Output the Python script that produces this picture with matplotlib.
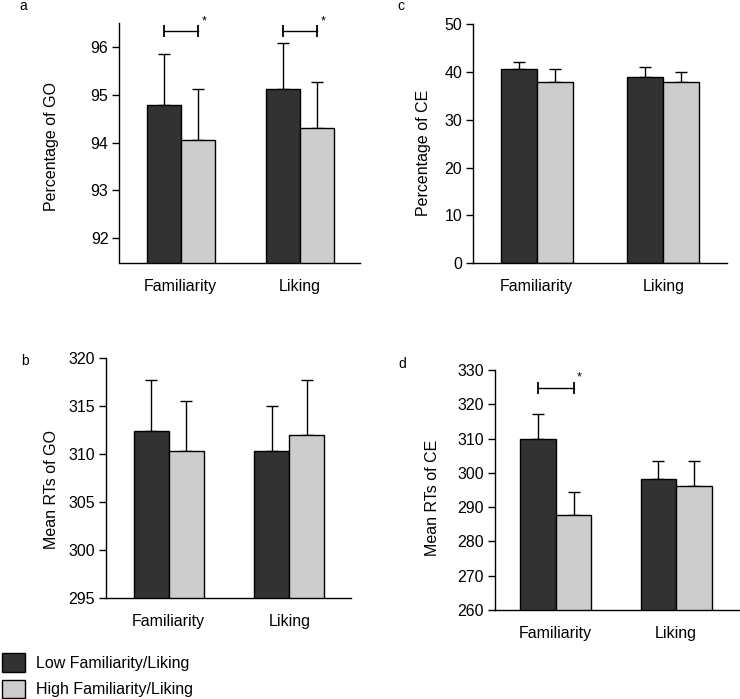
import matplotlib
matplotlib.use("Agg")
import matplotlib.pyplot as plt
from matplotlib.patches import Patch
import numpy as np

plt.rcParams['font.family'] = ['Liberation Sans', 'DejaVu Sans']

categories = ["Familiarity", "Liking"]
series_names = ["Low Familiarity/Liking", "High Familiarity/Liking"]

# Panel a: Percentage of GO
go_pct_low = [94.78, 95.11]
go_pct_high = [94.06, 94.30]
go_pct_low_err = [1.07, 0.97]
go_pct_high_err = [1.06, 0.96]
go_pct_ticks = [92, 93, 94, 95, 96]

# Panel b: Mean RTs of GO
go_rt_low = [312.4, 310.3]
go_rt_high = [310.3, 312.0]
go_rt_low_err = [5.3, 4.7]
go_rt_high_err = [5.3, 5.7]
go_rt_ticks = [295, 300, 305, 310, 315, 320]

# Panel c: Percentage of CE
ce_pct_low = [40.7, 38.9]
ce_pct_high = [37.95, 37.95]
ce_pct_low_err = [1.35, 2.2]
ce_pct_high_err = [2.55, 2.0]
ce_pct_ticks = [0, 10, 20, 30, 40, 50]

# Panel d: Mean RTs of CE
ce_rt_low = [309.9, 298.1]
ce_rt_high = [287.7, 296.1]
ce_rt_low_err = [7.3, 5.3]
ce_rt_high_err = [6.6, 7.3]
ce_rt_ticks = [260, 270, 280, 290, 300, 310, 320, 330]

# significance markers (group index, bracket height)
sig_a = [(0, 96.33), (1, 96.33)]
sig_d = [(0, 324.8)]

DARK = "#323232"
LIGHT = "#cdcdcd"
FS = 11.5

fig = plt.figure(figsize=(7.4, 6.99), dpi=100)

def panel(rect, low, high, lerr, herr, ylim, ticks, ylabel, lab_coords, xlim, width, sigs=None, sig_tick=None):
    ax = fig.add_axes(rect)
    x = np.arange(len(categories))
    xl = x - width / 2
    xh = x + width / 2
    ax.bar(xl, low, width=width, color=DARK, edgecolor="black", linewidth=1.0, zorder=2)
    ax.bar(xh, high, width=width, color=LIGHT, edgecolor="black", linewidth=1.0, zorder=2)
    ax.errorbar(xl, low, yerr=[np.zeros(len(low)), lerr], fmt="none", ecolor="black",
                elinewidth=1.0, capsize=4, capthick=1.0, zorder=1)
    ax.errorbar(xh, high, yerr=[np.zeros(len(high)), herr], fmt="none", ecolor="black",
                elinewidth=1.0, capsize=4, capthick=1.0, zorder=1)
    ax.set_ylim(*ylim)
    ax.set_xlim(*xlim)
    ax.set_yticks(ticks)
    ax.set_yticklabels([str(t) for t in ticks], fontsize=FS)
    ax.set_xticks(x)
    ax.set_xticklabels(categories, fontsize=FS)
    ax.tick_params(axis="x", length=0, pad=11.5)
    ax.tick_params(axis="y", length=5, width=1.0, pad=3)
    for s in ["top", "right"]:
        ax.spines[s].set_visible(False)
    for s in ["left", "bottom"]:
        ax.spines[s].set_linewidth(1.0)
    ax.set_ylabel(ylabel, fontsize=FS)
    ax.yaxis.set_label_coords(*lab_coords)
    if sigs:
        for gi, yv in sigs:
            x1, x2 = xl[gi], xh[gi]
            ax.plot([x1, x2], [yv, yv], color="black", linewidth=1.0, clip_on=False)
            ax.plot([x1, x2], [yv, yv], linestyle="none", marker="|", markersize=8,
                    markeredgewidth=1.3, color="black", clip_on=False)
            ax.text(x2 + 0.03, yv + sig_tick, "*", fontsize=9, ha="left", va="center", clip_on=False)
    return ax

# a
panel([119.5/740, 1-263/699, 240.5/740, 240/699], go_pct_low, go_pct_high, go_pct_low_err, go_pct_high_err,
      (91.48, 96.5), go_pct_ticks, "Percentage of GO", (-0.25, 0.485), (-0.513, 1.503), 0.285,
      sigs=sig_a, sig_tick=0.2)
# c
panel([473.3/740, 1-263.3/699, 253.4/740, 239.3/699], ce_pct_low, ce_pct_high, ce_pct_low_err, ce_pct_high_err,
      (0, 50), ce_pct_ticks, "Percentage of CE", (-0.165, 0.46), (-0.50, 1.50), 0.284)
# b
panel([105.7/740, 1-598.3/699, 245/740, 240/699], go_rt_low, go_rt_high, go_rt_low_err, go_rt_high_err,
      (295, 320), go_rt_ticks, "Mean RTs of GO", (-0.19, 0.455), (-0.522, 1.509), 0.29)
# d
panel([495/740, 1-610/699, 245/740, 240/699], ce_rt_low, ce_rt_high, ce_rt_low_err, ce_rt_high_err,
      (260, 330), ce_rt_ticks, "Mean RTs of CE", (-0.225, 0.469), (-0.505, 1.53), 0.295,
      sigs=sig_d, sig_tick=3.0)

# panel letters
fig.text(19/740, 1-10/699, "a", fontsize=10, ha="left", va="baseline")
fig.text(397/740, 1-10/699, "c", fontsize=10, ha="left", va="baseline")
fig.text(21/740, 1-365/699, "b", fontsize=10, ha="left", va="baseline")
fig.text(398/740, 1-368/699, "d", fontsize=10, ha="left", va="baseline")

handles = [Patch(facecolor=DARK, edgecolor="black", linewidth=1.0),
           Patch(facecolor=LIGHT, edgecolor="black", linewidth=1.0)]
fig.legend(handles, series_names, loc="lower left", bbox_to_anchor=(2/740, 1/699),
           frameon=False, fontsize=FS, handlelength=1.45, handleheight=1.4,
           handletextpad=0.65, labelspacing=0.5, borderpad=0, borderaxespad=0)

fig.savefig("out.png", dpi=100)
